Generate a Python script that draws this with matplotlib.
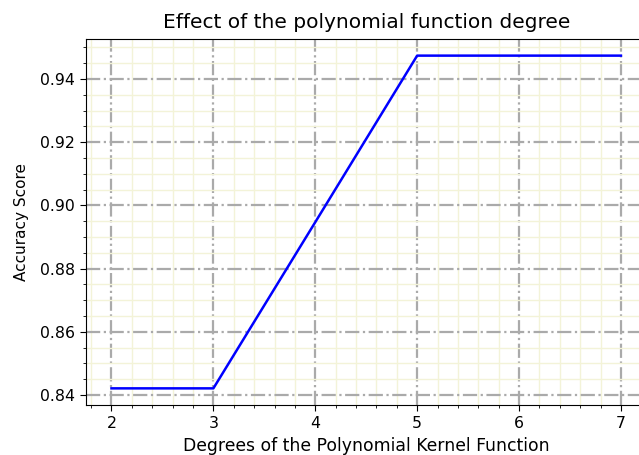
import matplotlib
matplotlib.use('Agg')
import matplotlib.pyplot as plt
from matplotlib.ticker import MultipleLocator

degrees = [2, 3, 4, 5, 6, 7]
accuracy = [0.8421, 0.8421, 0.8947, 0.9474, 0.9474, 0.9474]

fig = plt.figure(figsize=(6.39, 4.55), dpi=100)
ax = fig.add_axes([0.1346, 0.1099, 0.877, 0.8044])

ax.plot(degrees, accuracy, color='blue', linewidth=1.8)

ax.xaxis.set_major_locator(MultipleLocator(1))
ax.xaxis.set_minor_locator(MultipleLocator(0.2))
ax.yaxis.set_major_locator(MultipleLocator(0.02))
ax.yaxis.set_minor_locator(MultipleLocator(0.005))

ax.grid(which='major', color='#aaaaaa', linestyle='-.', linewidth=1.6)
ax.grid(which='minor', color='#f3f3d8', linestyle='-', linewidth=1.0)
ax.set_axisbelow(True)

ax.tick_params(which='major', length=4.5, labelsize=11.3)
ax.tick_params(which='minor', length=2.5)

ax.set_title('Effect of the polynomial function degree', fontsize=14.5, pad=8)
ax.set_xlabel('Degrees of the Polynomial Kernel Function', fontsize=12.4, labelpad=4)
ax.set_ylabel('Accuracy Score', fontsize=11, labelpad=8)

fig.savefig('out.png', dpi=100)
